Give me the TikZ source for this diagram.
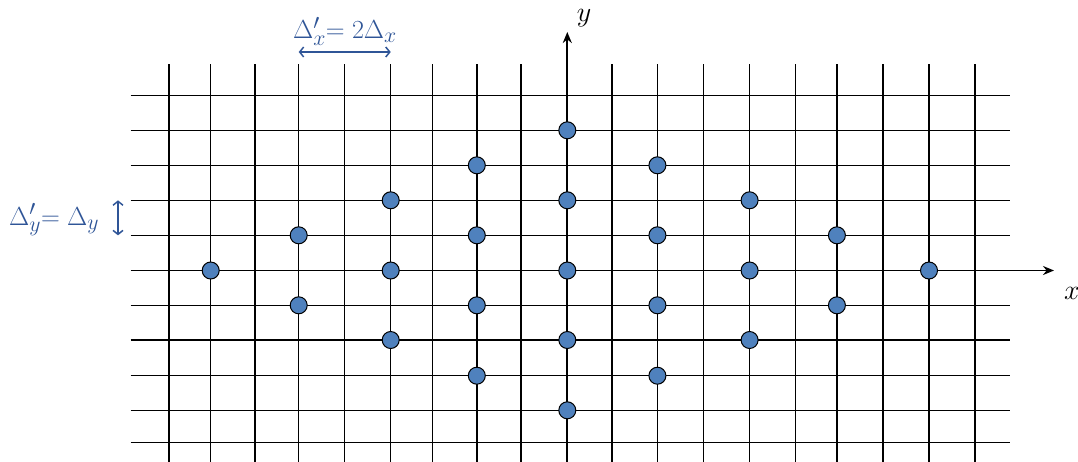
\documentclass[tikz,border=0pt]{standalone}
\usetikzlibrary{arrows.meta}
\definecolor{dotblue}{RGB}{79,129,189}
\definecolor{lblblue}{RGB}{47,85,151}
\begin{document}
\begin{tikzpicture}[x=1pt,y=-1pt,
  gridline/.style={black,line width=1.4pt},
  axisline/.style={black,line width=1.8pt,-{Stealth[length=11pt,width=9pt]}},
  dot/.style={circle,draw=black,line width=1pt,fill=dotblue,minimum size=17pt,inner sep=0pt},
  dimarrow/.style={lblblue,line width=1.5pt,{Straight Barb[length=4pt,width=10pt]}-{Straight Barb[length=4pt,width=10pt]}},
  lbl/.style={text=lblblue,font=\Huge,inner sep=0pt},
  axlbl/.style={font=\Huge,inner sep=0pt}]
\useasboundingbox (0,0) rectangle (1078,461);
\begin{scope}
\clip (0,0) rectangle (1078,461);
% vertical grid lines
\foreach \xx in {169,210.7,255,298.7,344.7,390.7,432.7,476.8,520.9,611.8,657.4,703.5,749.6,795.2,836.9,882.9,929,975}
  \draw[gridline] (\xx,64) -- (\xx,465);
% horizontal grid lines
\foreach \yy in {95.7,130.3,165.3,200.3,235.3,305.3,340,375.7,410.3,442.7}
  \draw[gridline] (130.7,\yy) -- (1010,\yy);
\end{scope}
% axes
\coordinate (xs) at (130.7,270.5);
\coordinate (xe) at (1054,270.5);
\coordinate (ys) at (567.3,465);
\coordinate (ye) at (567.3,32);
\draw[axisline] (xs) -- (xe);
\draw[axisline] (ys) -- (ye);
\node[axlbl] (ylab) at (584,18) {\scalebox{1.13}{$y$}};
\node[axlbl] (xlab) at (1072,293) {\scalebox{1.13}{$x$}};
% dots (diamond pattern)
\node[dot] (d1) at (210.7,270.5) {};
\node[dot] (d2) at (298.7,235.3) {};
\node[dot] (d3) at (298.7,305.3) {};
\node[dot] (d4) at (390.7,200.3) {};
\node[dot] (d5) at (390.7,270.5) {};
\node[dot] (d6) at (390.7,340) {};
\node[dot] (d7) at (476.8,165.3) {};
\node[dot] (d8) at (476.8,235.3) {};
\node[dot] (d9) at (476.8,305.3) {};
\node[dot] (d10) at (476.8,375.7) {};
\node[dot] (d11) at (567.3,130.3) {};
\node[dot] (d12) at (567.3,200.3) {};
\node[dot] (d13) at (567.3,270.5) {};
\node[dot] (d14) at (567.3,340) {};
\node[dot] (d15) at (567.3,410.3) {};
\node[dot] (d16) at (657.4,165.3) {};
\node[dot] (d17) at (657.4,235.3) {};
\node[dot] (d18) at (657.4,305.3) {};
\node[dot] (d19) at (657.4,375.7) {};
\node[dot] (d20) at (749.6,200.3) {};
\node[dot] (d21) at (749.6,270.5) {};
\node[dot] (d22) at (749.6,340) {};
\node[dot] (d23) at (836.9,235.3) {};
\node[dot] (d24) at (836.9,305.3) {};
\node[dot] (d25) at (929,270.5) {};
% dimension labels
\node[lbl] (dxl) at (345,31) {\scalebox{1.05}{$\Delta'_x{=}\;2\Delta_x$}};
\coordinate (dxa) at (298.7,52);
\coordinate (dxb) at (390.7,52);
\draw[dimarrow] (dxa) -- (dxb);
\node[lbl,anchor=west] (dyl) at (9,220) {\scalebox{1.05}{$\Delta'_y{=}\;\Delta_y$}};
\coordinate (dya) at (118,200.3);
\coordinate (dyb) at (118,235.3);
\draw[dimarrow] (dya) -- (dyb);
\end{tikzpicture}
\end{document}
